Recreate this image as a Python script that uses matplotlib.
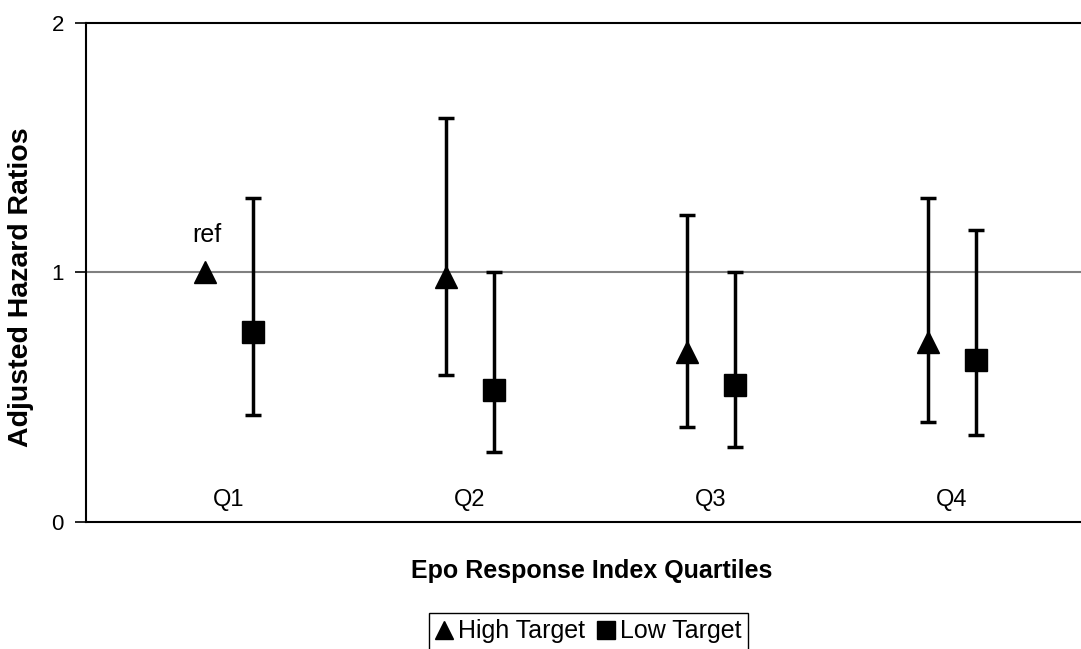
import numpy as np
import matplotlib
matplotlib.use("Agg")
import matplotlib.pyplot as plt

plt.rcParams['font.family'] = ['Liberation Sans', 'DejaVu Sans']

# quartiles and hazard ratios (point, lower CI, upper CI)
quartiles = ["Q1", "Q2", "Q3", "Q4"]
high_hr = [1.00, 0.98, 0.68, 0.72]
high_lo = [np.nan, 0.59, 0.38, 0.40]
high_hi = [np.nan, 1.62, 1.23, 1.30]
low_hr = [0.76, 0.53, 0.55, 0.65]
low_lo = [0.43, 0.28, 0.30, 0.35]
low_hi = [1.30, 1.00, 1.00, 1.17]

x = np.arange(len(quartiles))
high_hr = np.array(high_hr)
low_hr = np.array(low_hr)

fig = plt.figure(figsize=(10.81, 6.49), dpi=100)
ax = fig.add_axes([0.0796, 0.1957, 0.9204, 0.769])

ax.axhline(1, color="#808080", lw=1.5, zorder=1)

# high target: Q1 is the reference, no interval
yerr_h = np.array([high_hr - np.array(high_lo), np.array(high_hi) - high_hr])
mask = ~np.isnan(np.array(high_lo))
ax.errorbar(x[mask] - 0.1, high_hr[mask], yerr=yerr_h[:, mask], fmt="none",
            ecolor="black", elinewidth=2.5, capsize=6, capthick=2.5, zorder=2)
ax.plot(x - 0.1, high_hr, "^", color="black", ms=16, zorder=3, label="High Target")

yerr_l = np.array([low_hr - np.array(low_lo), np.array(low_hi) - low_hr])
ax.errorbar(x + 0.1, low_hr, yerr=yerr_l, fmt="none",
            ecolor="black", elinewidth=2.5, capsize=6, capthick=2.5, zorder=2)
ax.plot(x + 0.1, low_hr, "s", color="black", ms=15.5, zorder=3, label="Low Target")

ax.text(x[0] - 0.09, high_hr[0] + 0.15, "ref", ha="center", va="center", fontsize=18)
for xi, q in zip(x, quartiles):
    ax.text(xi, 0.09, q, ha="center", va="center", fontsize=17)

ax.set_xlim(-0.593, 3.535)
ax.set_ylim(0, 2)
ax.set_yticks([0, 1, 2])
ax.set_xticks([])
ax.tick_params(axis="y", labelsize=16, length=8, width=1.2, pad=8)
ax.spines["right"].set_visible(False)
for s in ["left", "top", "bottom"]:
    ax.spines[s].set_linewidth(1.5)

ax.set_ylabel("Adjusted Hazard Ratios", fontsize=20.5, fontweight="bold")
ax.yaxis.set_label_coords(-0.065, 0.471)
ax.yaxis.label.set_va("center")
ax.set_xlabel("Epo Response Index Quartiles", fontsize=18, fontweight="bold")
ax.xaxis.set_label_coords(0.5085, -0.098)
ax.xaxis.label.set_va("center")

ax.legend(loc="center", bbox_to_anchor=(0.505, -0.219), ncol=2, fontsize=18,
          frameon=True, fancybox=False, edgecolor="black", framealpha=1,
          handlelength=0.7, handletextpad=0.2, columnspacing=0.5,
          borderpad=0.25, borderaxespad=0, markerscale=0.85)

fig.savefig("out.png", dpi=100)
